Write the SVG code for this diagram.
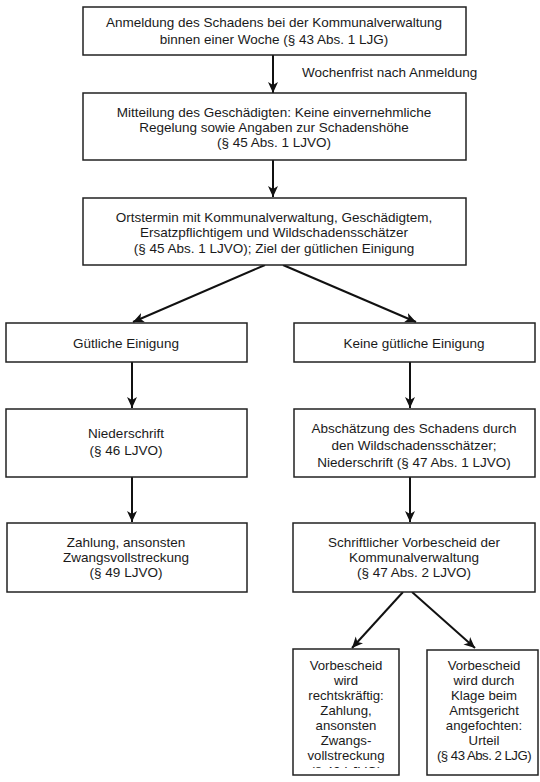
<svg xmlns="http://www.w3.org/2000/svg" width="540" height="782" viewBox="0 0 540 782">
<defs>
<marker id="ah" markerUnits="userSpaceOnUse" markerWidth="12" markerHeight="12" viewBox="0 0 12 12" refX="11" refY="6" orient="auto">
<path d="M0,1 L11,6 L0,11 L3,6 Z" fill="#111"/>
</marker>
<clipPath id="clipL"><rect x="293" y="649" width="106" height="119"/></clipPath>
</defs>
<style>
.box{fill:#fff;stroke:#222;stroke-width:1.5}
.t{font-family:"Liberation Sans",Arial,sans-serif;font-size:13.5px;fill:#1a1a1a;text-anchor:middle}
.s{font-size:13.2px}
.c{stroke:#111;stroke-width:2;fill:none;marker-end:url(#ah)}
</style>
<rect width="540" height="782" fill="#fff"/>
<g id="connectors">
<line class="c" x1="273" y1="55" x2="273" y2="93"/>
<line class="c" x1="273" y1="160" x2="273" y2="197"/>
<line class="c" x1="265" y1="265" x2="133" y2="322"/>
<line class="c" x1="283" y1="265" x2="416" y2="322"/>
<line class="c" x1="132" y1="362" x2="132" y2="408"/>
<line class="c" x1="410" y1="362" x2="410" y2="408"/>
<line class="c" x1="132" y1="477" x2="132" y2="522"/>
<line class="c" x1="410" y1="477" x2="410" y2="522"/>
<line class="c" x1="403" y1="592" x2="352" y2="648"/>
<line class="c" x1="412" y1="592" x2="475" y2="648"/>
<text class="t" x="302" y="77" style="text-anchor:start">Wochenfrist nach Anmeldung</text>
</g>
<g id="n1">
<rect class="box" x="83" y="7" width="383" height="48"/>
<text class="t" x="274" y="27">Anmeldung des Schadens bei der Kommunalverwaltung</text>
<text class="t" x="274" y="44">binnen einer Woche (§ 43 Abs. 1 LJG)</text>
</g>
<g id="n2">
<rect class="box" x="83" y="93" width="383" height="67"/>
<text class="t" x="274" y="117">Mitteilung des Geschädigten: Keine einvernehmliche</text>
<text class="t" x="274" y="132">Regelung sowie Angaben zur Schadenshöhe</text>
<text class="t" x="274" y="147">(§ 45 Abs. 1 LJVO)</text>
</g>
<g id="n3">
<rect class="box" x="83" y="198" width="383" height="67"/>
<text class="t" x="274" y="222">Ortstermin mit Kommunalverwaltung, Geschädigtem,</text>
<text class="t" x="274" y="237">Ersatzpflichtigem und Wildschadensschätzer</text>
<text class="t" x="274" y="253">(§ 45 Abs. 1 LJVO); Ziel der gütlichen Einigung</text>
</g>
<g id="n4">
<rect class="box" x="6" y="323" width="241" height="39"/>
<text class="t" x="126" y="348">Gütliche Einigung</text>
</g>
<g id="n5">
<rect class="box" x="294" y="323" width="241" height="39"/>
<text class="t" x="414" y="348">Keine gütliche Einigung</text>
</g>
<g id="n6">
<rect class="box" x="6" y="409" width="241" height="68"/>
<text class="t" x="126" y="438">Niederschrift</text>
<text class="t" x="126" y="455">(§ 46 LJVO)</text>
</g>
<g id="n7">
<rect class="box" x="294" y="409" width="241" height="68"/>
<text class="t" x="414" y="433">Abschätzung des Schadens durch</text>
<text class="t" x="414" y="450">den Wildschadensschätzer;</text>
<text class="t" x="414" y="467">Niederschrift (§ 47 Abs. 1 LJVO)</text>
</g>
<g id="n8">
<rect class="box" x="7" y="523" width="240" height="69"/>
<text class="t" x="126" y="547">Zahlung, ansonsten</text>
<text class="t" x="126" y="562">Zwangsvollstreckung</text>
<text class="t" x="126" y="577">(§ 49 LJVO)</text>
</g>
<g id="n9">
<rect class="box" x="293" y="523" width="242" height="69"/>
<text class="t" x="414" y="547">Schriftlicher Vorbescheid der</text>
<text class="t" x="414" y="562">Kommunalverwaltung</text>
<text class="t" x="414" y="577">(§ 47 Abs. 2 LJVO)</text>
</g>
<g id="n10">
<rect class="box" x="293" y="649" width="106" height="126"/>
<g clip-path="url(#clipL)">
<text class="t s" x="346" y="670">Vorbescheid</text>
<text class="t s" x="346" y="685">wird</text>
<text class="t s" x="346" y="700">rechtskräftig:</text>
<text class="t s" x="346" y="715">Zahlung,</text>
<text class="t s" x="346" y="730">ansonsten</text>
<text class="t s" x="346" y="745">Zwangs-</text>
<text class="t s" x="346" y="760">vollstreckung</text>
<text class="t s" x="346" y="776">(§ 49 LJVO)</text>
</g>
</g>
<g id="n11">
<rect class="box" x="427" y="650" width="111" height="125"/>
<text class="t s" x="484" y="670">Vorbescheid</text>
<text class="t s" x="484" y="685">wird durch</text>
<text class="t s" x="484" y="700">Klage beim</text>
<text class="t s" x="484" y="715">Amtsgericht</text>
<text class="t s" x="484" y="730">angefochten:</text>
<text class="t s" x="484" y="745">Urteil</text>
<text class="t s" x="484" y="760" style="letter-spacing:-0.5px">(§ 43 Abs. 2 LJG)</text>
</g>
</svg>
